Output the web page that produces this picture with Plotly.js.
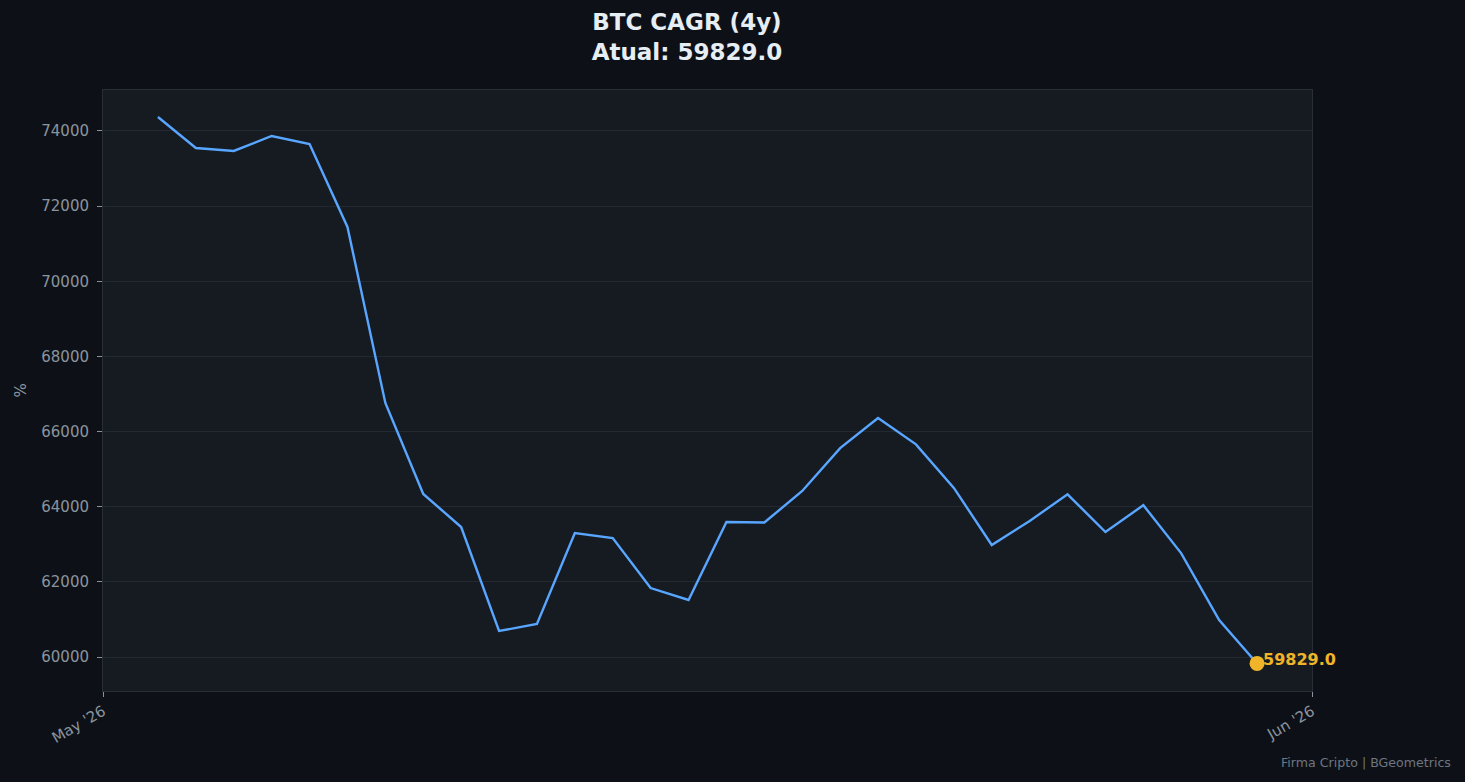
<!DOCTYPE html>
<html>
<head>
<meta charset="utf-8">
<script src="https://cdn.plot.ly/plotly-3.0.1.min.js"></script>
<style>
  html, body { margin: 0; padding: 0; background: #0d1117; }
  #chart { width: 1465px; height: 782px; }
</style>
</head>
<body>
<div id="chart"></div>
<script>
// Daily dates (May 2 – May 31, 2026)
const dates = [
  "2026-05-02","2026-05-03","2026-05-04","2026-05-05","2026-05-06",
  "2026-05-07","2026-05-08","2026-05-09","2026-05-10","2026-05-11",
  "2026-05-12","2026-05-13","2026-05-14","2026-05-15","2026-05-16",
  "2026-05-17","2026-05-18","2026-05-19","2026-05-20","2026-05-21",
  "2026-05-22","2026-05-23","2026-05-24","2026-05-25","2026-05-26",
  "2026-05-27","2026-05-28","2026-05-29","2026-05-30","2026-05-31"
];
// BTC CAGR (4y) values
const cagrValues = [
  74373, 73548, 73468, 73867, 73654,
  71445, 66760, 64338, 63460, 60692,
  60878, 63300, 63167, 61836, 61517,
  63593, 63580, 64418, 65560, 66361,
  65660, 64500, 62981, 63620, 64330,
  63327, 64040, 62760, 60984, 59829.0
];
const yTickVals = [60000, 62000, 64000, 66000, 68000, 70000, 72000, 74000];
const xTickLabels = ["May '26", "Jun '26"];

const lastDate = dates[dates.length - 1];
const lastValue = cagrValues[cagrValues.length - 1];

// x range with 5% margins on each side of the data span
const t0 = Date.parse(dates[0] + "T00:00:00Z");
const t1 = Date.parse(lastDate + "T00:00:00Z");
const pad = (t1 - t0) * 0.05;
const iso = t => new Date(t).toISOString().replace("Z", "");
const xStart = iso(t0 - pad), xEnd = iso(t1 + pad);

const font = "DejaVu Sans, Verdana, sans-serif";
const tickColor = "#8b949e";

const traces = [
  {
    x: dates, y: cagrValues, type: "scatter", mode: "lines",
    line: { color: "#58a6ff", width: 2.4 },
    hoverinfo: "x+y", showlegend: false
  },
  {
    x: [lastDate], y: [lastValue], type: "scatter", mode: "markers",
    marker: { color: "#f0b429", size: 15 },
    hoverinfo: "x+y", showlegend: false
  }
];

const layout = {
  width: 1465, height: 782,
  paper_bgcolor: "#0d1117",
  plot_bgcolor: "#161b22",
  margin: { l: 103, r: 153, t: 90, b: 91 },
  font: { family: font, color: tickColor, size: 15 },
  title: {
    text: "<b>BTC CAGR (4y)<br>Atual: " + lastValue.toFixed(1) + "</b>",
    font: { family: font, size: 23, color: "#e6edf3" },
    xref: "paper", x: 0.483, xanchor: "center",
    yref: "container", y: 0.962, yanchor: "middle"
  },
  xaxis: {
    type: "date",
    range: [xStart, xEnd],
    tickvals: [xStart, xEnd],
    ticktext: xTickLabels,
    tickangle: -30,
    ticks: "outside", ticklen: 5, tickcolor: tickColor, tickwidth: 1,
    ticklabelstandoff: 0,
    tickfont: { family: font, size: 15, color: tickColor },
    showgrid: false, zeroline: false,
    showline: true, linecolor: "#272e36", linewidth: 1, mirror: true
  },
  yaxis: {
    range: [59095, 75091],
    tickvals: yTickVals,
    ticktext: yTickVals.map(String),
    ticks: "outside", ticklen: 5, tickcolor: tickColor, tickwidth: 1,
    ticklabelstandoff: 5,
    tickfont: { family: font, size: 15, color: tickColor },
    showgrid: true, gridcolor: "#222930", gridwidth: 1,
    zeroline: false,
    showline: true, linecolor: "#272e36", linewidth: 1, mirror: true
  },
  annotations: [
    {
      text: "%", textangle: -90,
      xref: "paper", yref: "paper",
      x: (20 - 103) / 1209, y: 0.5,
      xanchor: "center", yanchor: "middle",
      showarrow: false,
      font: { family: font, size: 15, color: tickColor }
    },
    {
      text: "<b>" + lastValue.toFixed(1) + "</b>",
      x: lastDate, y: lastValue, xref: "x", yref: "y",
      xanchor: "left", yanchor: "middle",
      xshift: 4, yshift: 4,
      showarrow: false,
      font: { family: font, size: 16, color: "#f0b429" }
    },
    {
      text: "Firma Cripto | BGeometrics",
      xref: "paper", yref: "paper",
      x: (1453 - 103) / 1209, y: -(763 - 691) / 601,
      xanchor: "right", yanchor: "middle",
      showarrow: false,
      font: { family: font, size: 12.6, color: "#6e7681" }
    }
  ]
};

Plotly.newPlot("chart", traces, layout, { displayModeBar: false, responsive: false });
</script>
</body>
</html>
